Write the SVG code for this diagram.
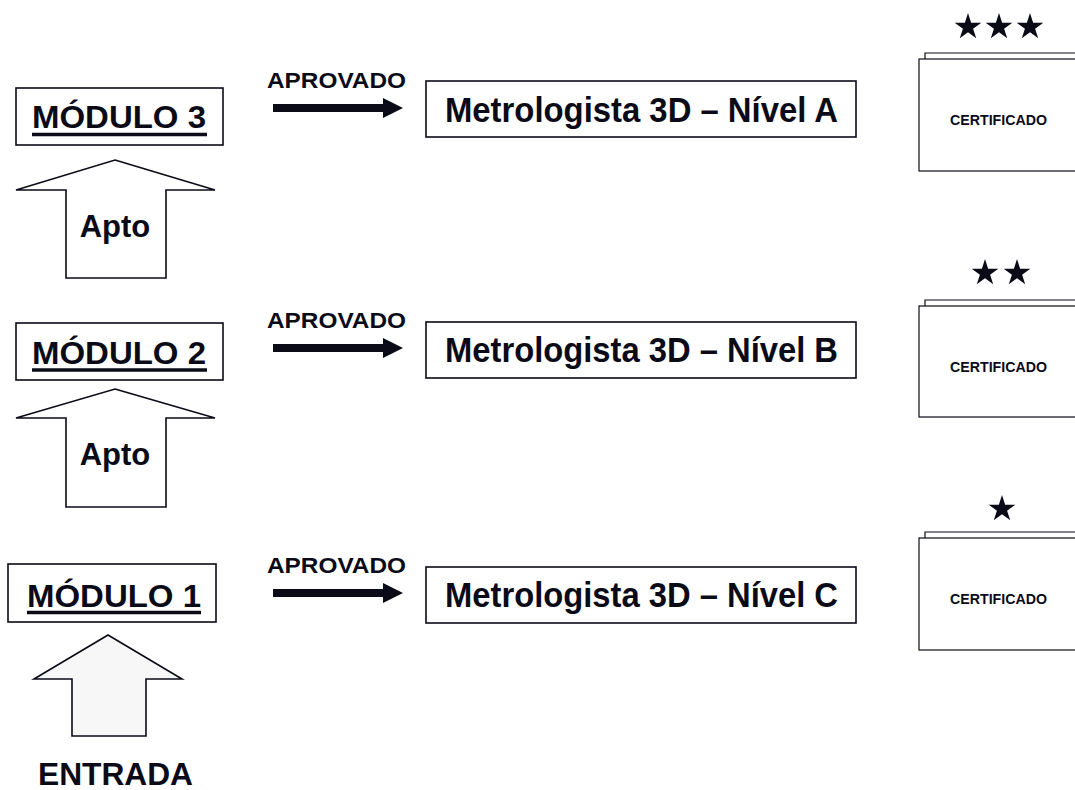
<svg xmlns="http://www.w3.org/2000/svg" width="1075" height="790" viewBox="0 0 1075 790">
<defs>
<style>
.t{font-family:"Liberation Sans",Arial,sans-serif;font-weight:bold;fill:#0b0b18}
.box{fill:#fff;stroke:#0b0b18;stroke-width:1.6}
.up{fill:#fff;stroke:#0b0b18;stroke-width:1.6;stroke-linejoin:miter}
.mod{font-size:31px}
.ul{stroke:#0b0b18;stroke-width:3.5}
.lvl{font-size:35px}
.apr{font-size:22px}
.apto{font-size:31px}
.cert{font-size:14px}
.pg{fill:#fff;stroke:#0b0b18;stroke-width:1.2}
.star{fill:#0b0b18}
.conn{fill:#0b0b18}
</style>
<path id="star" d="M0,-14 L3.14,-4.33 L13.31,-4.33 L5.09,1.65 L8.23,11.33 L0,5.35 L-8.23,11.33 L-5.09,1.65 L-13.31,-4.33 L-3.14,-4.33 Z"/>
<path id="rarrow" d="M0,-4 L110,-4 L110,-10 L130,0 L110,10 L110,4 L0,4 Z"/>
</defs>
<rect width="1075" height="790" fill="#fff"/>

<g id="modulo3">
<rect class="box" x="16" y="88" width="207" height="57"/>
<text class="t mod" x="32" y="128" textLength="174" lengthAdjust="spacingAndGlyphs">MÓDULO 3</text>
<line class="ul" x1="32" y1="134.5" x2="207" y2="134.5"/>
</g>
<g id="apto3">
<path class="up" d="M115,160 L215,190 L166,190 L166,278 L66,278 L66,190 L16,190 Z"/>
<text class="t apto" x="115" y="237" text-anchor="middle">Apto</text>
</g>
<g id="modulo2">
<rect class="box" x="16" y="323" width="207" height="57"/>
<text class="t mod" x="32" y="364" textLength="174" lengthAdjust="spacingAndGlyphs">MÓDULO 2</text>
<line class="ul" x1="32" y1="370" x2="207" y2="370"/>
</g>
<g id="apto2">
<path class="up" d="M115,389 L215,418 L166,418 L166,507 L66,507 L66,418 L16,418 Z"/>
<text class="t apto" x="115" y="465" text-anchor="middle">Apto</text>
</g>
<g id="modulo1">
<rect class="box" x="8" y="564" width="208" height="58"/>
<text class="t mod" x="27" y="607" textLength="174" lengthAdjust="spacingAndGlyphs">MÓDULO 1</text>
<line class="ul" x1="27" y1="612.5" x2="201" y2="612.5"/>
</g>
<g id="entrada">
<path class="up" d="M108,635 L182,679 L146,679 L146,736 L72,736 L72,679 L34,679 Z" style="fill:#f7f7f7"/>
<text class="t" x="38" y="785" font-size="32" textLength="155" lengthAdjust="spacingAndGlyphs">ENTRADA</text>
</g>

<g id="connectors">
<use href="#rarrow" class="conn" x="273" y="108"/>
<use href="#rarrow" class="conn" x="273" y="348"/>
<use href="#rarrow" class="conn" x="273" y="593"/>
<text class="t apr" x="267" y="88" textLength="139" lengthAdjust="spacingAndGlyphs">APROVADO</text>
<text class="t apr" x="267" y="328" textLength="139" lengthAdjust="spacingAndGlyphs">APROVADO</text>
<text class="t apr" x="267" y="573" textLength="139" lengthAdjust="spacingAndGlyphs">APROVADO</text>
</g>

<g id="nivelA">
<rect class="box" x="426" y="81" width="430" height="56"/>
<text class="t lvl" x="445" y="122" textLength="393" lengthAdjust="spacingAndGlyphs">Metrologista 3D – Nível A</text>
</g>
<g id="nivelB">
<rect class="box" x="426" y="322" width="430" height="56"/>
<text class="t lvl" x="445" y="362" textLength="393" lengthAdjust="spacingAndGlyphs">Metrologista 3D – Nível B</text>
</g>
<g id="nivelC">
<rect class="box" x="426" y="567" width="430" height="56"/>
<text class="t lvl" x="445" y="607" textLength="393" lengthAdjust="spacingAndGlyphs">Metrologista 3D – Nível C</text>
</g>

<g id="cert3">
<use href="#star" class="star" x="968" y="27"/>
<use href="#star" class="star" x="999" y="27"/>
<use href="#star" class="star" x="1030" y="27"/>
<path class="pg" d="M925,59 L925,53 L1080,53"/>
<rect class="pg" x="919" y="59" width="170" height="112"/>
<text class="t cert" x="950" y="125" textLength="97" lengthAdjust="spacingAndGlyphs">CERTIFICADO</text>
</g>
<g id="cert2">
<use href="#star" class="star" x="985" y="273"/>
<use href="#star" class="star" x="1017" y="273"/>
<path class="pg" d="M925,306 L925,300 L1080,300"/>
<rect class="pg" x="919" y="306" width="170" height="111"/>
<text class="t cert" x="950" y="372" textLength="97" lengthAdjust="spacingAndGlyphs">CERTIFICADO</text>
</g>
<g id="cert1">
<use href="#star" class="star" x="1002" y="509"/>
<path class="pg" d="M925,538 L925,532 L1080,532"/>
<rect class="pg" x="919" y="538" width="170" height="112"/>
<text class="t cert" x="950" y="604" textLength="97" lengthAdjust="spacingAndGlyphs">CERTIFICADO</text>
</g>
</svg>
